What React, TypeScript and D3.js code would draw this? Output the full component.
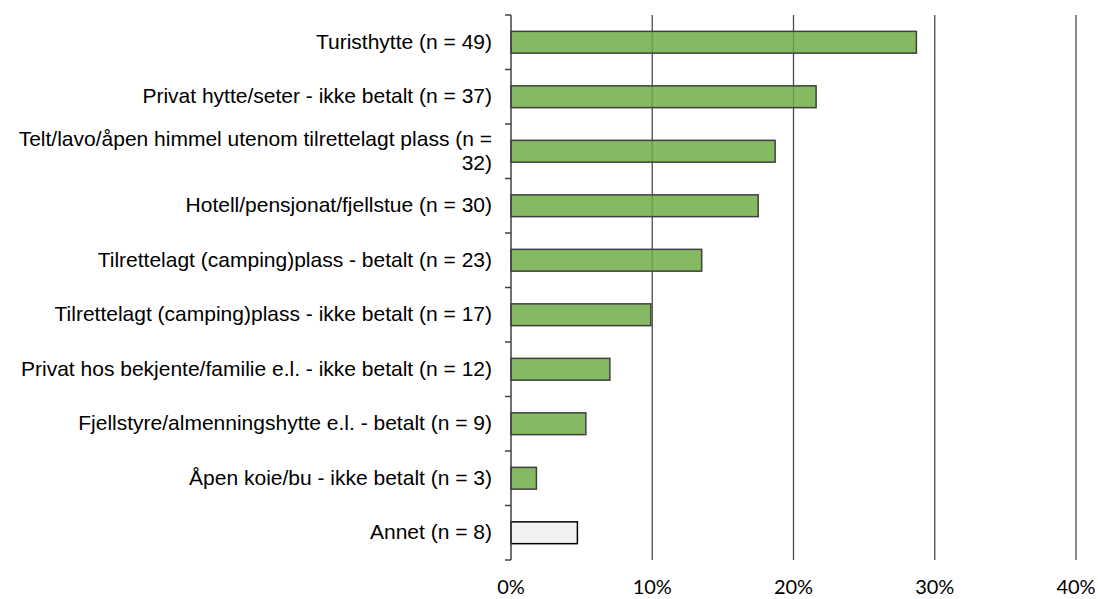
import React, { useRef, useEffect } from 'react';
import * as d3 from 'd3';

const categories = [
  'Turisthytte (n = 49)',
  'Privat hytte/seter - ikke betalt (n = 37)',
  'Telt/lavo/åpen himmel utenom tilrettelagt plass (n = 32)',
  'Hotell/pensjonat/fjellstue (n = 30)',
  'Tilrettelagt (camping)plass - betalt (n = 23)',
  'Tilrettelagt (camping)plass - ikke betalt (n = 17)',
  'Privat hos bekjente/familie e.l. - ikke betalt (n = 12)',
  'Fjellstyre/almenningshytte e.l. - betalt (n = 9)',
  'Åpen koie/bu - ikke betalt (n = 3)',
  'Annet (n = 8)',
];
const shares = [28.7, 21.6, 18.7, 17.5, 13.5, 9.9, 7.0, 5.3, 1.8, 4.7];
const isOther = [false, false, false, false, false, false, false, false, false, true];
const xTicks = [0, 10, 20, 30, 40];

const width = 1098;
const height = 599;

function wrapLabel(textSel: any, maxWidth: number, lineHeight: number) {
  textSel.each(function (this: SVGTextElement) {
    const text = d3.select(this);
    const words = text.text().split(/\s+/);
    const y = +text.attr('y');
    text.text(null);
    const lines: string[][] = [[]];
    const probe = text.append('tspan').attr('x', text.attr('x'));
    for (const w of words) {
      const cur = lines[lines.length - 1];
      cur.push(w);
      probe.text(cur.join(' '));
      if ((probe.node() as SVGTSpanElement).getComputedTextLength() > maxWidth && cur.length > 1) {
        cur.pop();
        lines.push([w]);
      }
    }
    probe.remove();
    const offset = -((lines.length - 1) * lineHeight) / 2;
    lines.forEach((l, i) => {
      text.append('tspan')
        .attr('x', text.attr('x'))
        .attr('y', y + offset + i * lineHeight)
        .attr('dy', '0.3em')
        .text(l.join(' '));
    });
  });
}

function BarChart() {
  const svgRef = useRef<SVGSVGElement>(null);

  const margin = { top: 15, right: 22, bottom: 39, left: 511 };
  const innerHeight = height - margin.top - margin.bottom;

  useEffect(() => {
    const svg = d3.select(svgRef.current);
    svg.selectAll('*').remove();

    const xScale = d3.scaleLinear().domain([0, 40]).range([0, 565]);
    const yScale = d3.scaleBand<number>()
      .domain(d3.range(categories.length))
      .range([0, innerHeight])
      .paddingInner(0.6)
      .paddingOuter(0.3);

    const g = svg.append('g')
      .attr('transform', `translate(${margin.left},${margin.top})`);

    // gridlines
    g.selectAll('line.grid').data(xTicks.filter(t => t > 0))
      .enter().append('line')
      .attr('class', 'grid')
      .attr('x1', d => xScale(d)).attr('x2', d => xScale(d))
      .attr('y1', 0).attr('y2', innerHeight)
      .attr('stroke', '#4a4a4a')
      .attr('stroke-width', 1.3);

    // bars
    g.selectAll('rect').data(shares)
      .enter().append('rect')
      .attr('x', 0)
      .attr('y', (d, i) => yScale(i)!)
      .attr('width', d => xScale(d))
      .attr('height', yScale.bandwidth())
      .attr('fill', (d, i) => isOther[i] ? '#f2f2f2' : '#70ad47')
      .attr('fill-opacity', (d, i) => isOther[i] ? 1 : 0.85)
      .attr('stroke', (d, i) => isOther[i] ? '#000' : '#404040')
      .attr('stroke-width', 1.5);

    // y axis with ticks at band boundaries
    const step = yScale.step();
    const y0 = yScale(0)! - (step - yScale.bandwidth()) / 2;
    const boundaries = d3.range(categories.length + 1).map(i => y0 + i * step);
    g.append('line')
      .attr('x1', 0).attr('x2', 0)
      .attr('y1', boundaries[0]).attr('y2', boundaries[boundaries.length - 1])
      .attr('stroke', '#404040').attr('stroke-width', 1.5);
    g.selectAll('line.ytick').data(boundaries)
      .enter().append('line')
      .attr('class', 'ytick')
      .attr('x1', -6).attr('x2', 0)
      .attr('y1', d => d).attr('y2', d => d)
      .attr('stroke', '#404040').attr('stroke-width', 1.5);

    // category labels
    g.selectAll('text.cat').data(categories)
      .enter().append('text')
      .attr('class', 'cat')
      .attr('x', -19)
      .attr('y', (d, i) => yScale(i)! + yScale.bandwidth() / 2)
      .attr('text-anchor', 'end')
      .attr('font-family', '"Liberation Sans", Arial, sans-serif')
      .attr('font-size', 21)
      .attr('fill', '#000')
      .text(d => d)
      .call(wrapLabel, 485, 24);

    // x tick labels
    g.selectAll('text.xt').data(xTicks)
      .enter().append('text')
      .attr('class', 'xt')
      .attr('x', d => xScale(d))
      .attr('y', innerHeight + 34)
      .attr('text-anchor', 'middle')
      .attr('font-family', 'Lato, "Open Sans", sans-serif')
      .attr('font-size', 20)
      .attr('fill', '#000')
      .text(d => `${d}%`);
  });

  return (
    <svg ref={svgRef} width={width} height={height}
      style={{ position: 'absolute', left: 0, top: 0, background: '#fff' }} />
  );
}

export default function App() {
  return <BarChart />;
}
